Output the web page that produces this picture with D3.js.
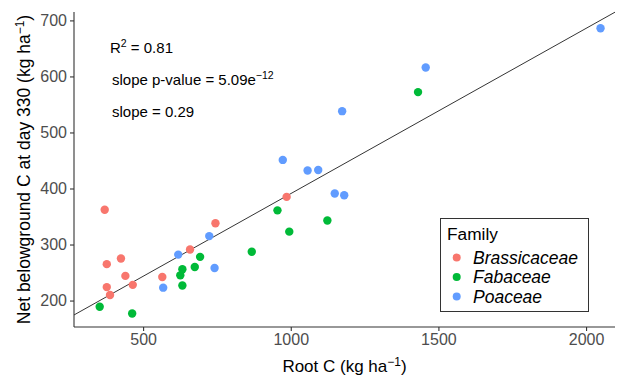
<!DOCTYPE html>
<html><head><meta charset="utf-8">
<script src="https://cdn.jsdelivr.net/npm/d3@7"></script>
<style>body{margin:0;background:#fff;}svg{display:block;font-family:"Liberation Sans",Arial,sans-serif;}</style>
</head><body><svg id="c" width="619" height="377"></svg>
<script>
const families = ["Brassicaceae","Fabaceae","Poaceae"];
const familyColors = ["#F8766D","#00BA38","#619CFF"];
const brassRoot = [370,377,425,440,377,388,465,565,659,745,986];
const brassNet  = [362,265,275,244,224,210,228,242,291,338,385];
const fabRoot = [353,463,626,633,633,675,693,868,955,995,1124,1431];
const fabNet  = [189,177,245,256,227,260,278,287,361,323,343,572];
const poaRoot = [619,568,724,742,973,1057,1093,1149,1181,1174,1457,2049];
const poaNet  = [282,223,315,258,451,432,433,391,388,538,616,686];
const xTicks = [500,1000,1500,2000];
const yTicks = [200,300,400,500,600,700];
const fitIntercept = 95.8, fitSlope = 0.295;

const svg = d3.select("#c");
const L=74, R=615, T=12, B=327;
const x = d3.scaleLinear().domain([266,2098]).range([L,R]);
const y = d3.scaleLinear().domain([152.8,715]).range([B,T]);

// regression line
const [x0,x1] = x.domain();
svg.append("line").attr("x1",x(x0)).attr("y1",y(fitIntercept+fitSlope*x0))
  .attr("x2",x(x1)).attr("y2",y(fitIntercept+fitSlope*x1))
  .attr("stroke","#000").attr("stroke-width",0.8);

// axes
const xa = svg.append("g").attr("transform",`translate(0,${B})`)
  .call(d3.axisBottom(x).tickValues(xTicks).tickFormat(d3.format("d")).tickSize(4).tickPadding(3));
const ya = svg.append("g").attr("transform",`translate(${L},0)`)
  .call(d3.axisLeft(y).tickValues(yTicks).tickFormat(d3.format("d")).tickSize(4).tickPadding(3));
[xa,ya].forEach(a=>{
  a.select(".domain").attr("stroke","#333").attr("stroke-width",1.1);
  a.selectAll(".tick line").attr("stroke","#333").attr("stroke-width",1.1);
  a.selectAll(".tick text").attr("fill","#4D4D4D").style("font-size","16px").style("font-family","'Liberation Sans',Arial,sans-serif");
});
xa.select(".domain").attr("d",`M${L},0H${R}`);
ya.select(".domain").attr("d",`M0,${B}V${T}`);

// points
const groups = [[brassRoot,brassNet],[fabRoot,fabNet],[poaRoot,poaNet]];
groups.forEach((g,i)=>{
  svg.append("g").selectAll("circle").data(g[0].map((v,j)=>[v,g[1][j]])).join("circle")
    .attr("cx",d=>x(d[0])).attr("cy",d=>y(d[1])).attr("r",4.2).attr("fill",familyColors[i]);
});

// annotations
const ann = svg.append("g").style("font-size","15px").attr("fill","#000");
let t = ann.append("text").attr("x",110).attr("y",53);
t.append("tspan").text("R");
t.append("tspan").text("2").attr("dy",-6).style("font-size","10.5px");
t.append("tspan").text(" = 0.81").attr("dy",6);
t = ann.append("text").attr("x",112).attr("y",85);
t.append("tspan").text("slope p-value = 5.09e");
t.append("tspan").text("\u221212").attr("dy",-6).style("font-size","10.5px");
ann.append("text").attr("x",112).attr("y",117).text("slope = 0.29");

// axis titles
t = svg.append("text").attr("x",(L+R)/2).attr("y",372).attr("text-anchor","middle").style("font-size","17px");
t.append("tspan").text("Root C (kg ha");
t.append("tspan").text("\u22121").attr("dy",-6).style("font-size","12px");
t.append("tspan").text(")").attr("dy",6);
t = svg.append("text").attr("transform",`translate(29.5,${(T+B)/2}) rotate(-90)`).attr("text-anchor","middle").style("font-size","17.5px");
t.append("tspan").text("Net belowground C at day 330 (kg ha");
t.append("tspan").text("\u22121").attr("dy",-6).style("font-size","12px");
t.append("tspan").text(")").attr("dy",6);

// legend
const lg = svg.append("g");
lg.append("rect").attr("x",440.5).attr("y",218.5).attr("width",148).attr("height",93)
  .attr("fill","#fff").attr("stroke","#333").attr("stroke-width",1);
lg.append("text").attr("x",447).attr("y",240).style("font-size","17.3px").text("Family");
families.forEach((f,i)=>{
  const yy = 257.5 + i*19.5;
  lg.append("circle").attr("cx",456.7).attr("cy",yy).attr("r",4).attr("fill",familyColors[i]);
  lg.append("text").attr("x",473).attr("y",yy+6).style("font-size","17.5px").style("font-style","italic").text(f);
});
</script></body></html>
